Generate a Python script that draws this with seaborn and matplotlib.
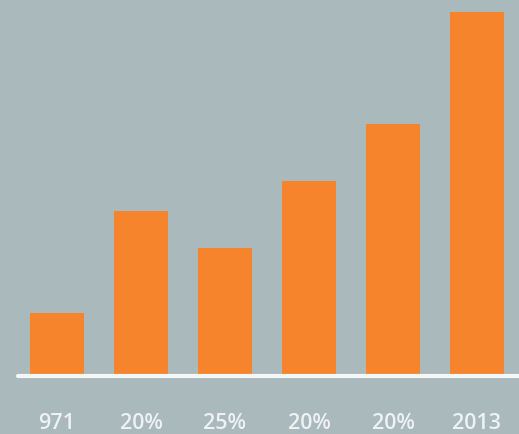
import matplotlib
matplotlib.use("Agg")
import matplotlib.pyplot as plt
import seaborn as sns
import pandas as pd

categories = ["971", "20%", "25%", "20%", "20%", "2013"]
values = [63, 165, 128, 195, 252, 364]

bg = "#aab9bc"
bar_color = "#f5842c"

sns.set_theme(style="white")
plt.rcParams['font.family'] = ['Open Sans', 'DejaVu Sans']

fig = plt.figure(figsize=(5.19, 4.35), dpi=100, facecolor=bg)
ax = fig.add_axes([18/519, 58/435, 501/519, 377/435])
ax.set_facecolor(bg)

df = pd.DataFrame({"pos": list(range(len(values))), "value": values})
sns.barplot(data=df, x="pos", y="value", color=bar_color, saturation=1,
            width=0.64, ax=ax, native_scale=True, linewidth=0, edgecolor="none")

ax.set_xlim(-0.464, 5.5)
ax.set_ylim(0, 377)
for s in ax.spines.values():
    s.set_visible(False)
ax.axhline(0, color="#f4f7f8", lw=3, clip_on=False)
ax.set_yticks([])
ax.set_xticks(range(len(categories)))
ax.set_xticklabels(categories, fontsize=15.5, color="#eef2f3", fontweight="semibold")
ax.tick_params(axis="x", length=0, pad=26)
ax.set_xlabel("")
ax.set_ylabel("")

fig.savefig("out.png", dpi=100, facecolor=bg)
